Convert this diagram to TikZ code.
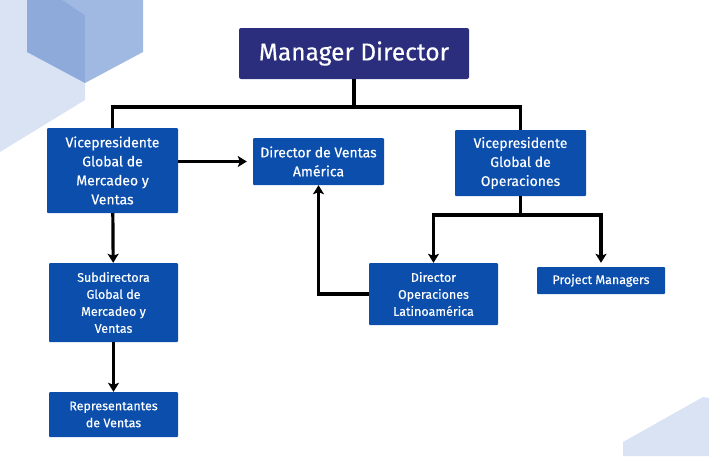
\documentclass[tikz,border=0pt]{standalone}
\usepackage{fontspec}
\setmainfont{Fira Sans}
\newfontfamily\boxfont{Fira Sans}[FakeBold=0.3]
\usepackage{tikz}
\usetikzlibrary{arrows.meta}

\definecolor{navy}{RGB}{43,46,125}
\definecolor{boxblue}{RGB}{11,78,172}
\definecolor{palehex}{RGB}{218,227,243}
\definecolor{cubeleft}{RGB}{142,170,219}
\definecolor{cuberight}{RGB}{160,185,226}

\begin{document}
\begin{tikzpicture}[x=1pt,y=-1pt,
    top/.style={rectangle,rounded corners=2pt,fill=navy,text=white,font=\boxfont\fontsize{24.5}{28}\selectfont,minimum width=230pt,minimum height=51pt,inner sep=0pt},
    big/.style={rectangle,rounded corners=1pt,fill=boxblue,text=white,align=center,font=\boxfont\fontsize{14}{19}\selectfont,minimum width=131pt,inner sep=0pt},
    small/.style={rectangle,rounded corners=1pt,fill=boxblue,text=white,align=center,font=\boxfont\fontsize{12.5}{17}\selectfont,minimum width=129pt,inner sep=0pt},
    link/.style={line width=3.2pt},
    >={Stealth[length=9pt,width=11pt,inset=2pt]}]
\useasboundingbox (0,0) rectangle (709,456);
% background shapes
\fill[palehex] (0,0) -- (85,0) -- (85,100) -- (0,152) -- cycle;
\fill[cubeleft] (27,0) -- (63,0) -- (85,15) -- (85,83) -- (27,52) -- cycle;
\fill[cuberight] (63,0) -- (143,0) -- (143,52) -- (85,83) -- (85,15) -- cycle;
\fill[palehex] (623,456) -- (623,442) -- (703,397) -- (709,398) -- (709,456) -- cycle;

\node[top]   (MD)  at (354,53.5)  {Manager Director};
\node[big,minimum height=85pt]   (VPM) at (112.5,170.5) {Vicepresidente\\Global de\\Mercadeo y\\Ventas};
\node[big,minimum height=47pt]   (DVA) at (318.5,161.5) {Director de Ventas\\América};
\node[big,minimum height=66pt]   (VPO) at (520.5,163)   {Vicepresidente\\Global de\\Operaciones};
\node[small,minimum height=79pt] (SUB) at (113.5,302.5) {Subdirectora\\Global de\\Mercadeo y\\Ventas};
\node[small,minimum height=45pt] (REP) at (113.5,414.5) {Representantes\\de Ventas};
\node[small,minimum height=62pt] (DOL) at (433.5,294)   {Director\\Operaciones\\Latinoamérica};
\node[small,minimum width=128pt,minimum height=27pt] (PM) at (601,280.5) {Project Managers};

\coordinate (bar)   at (354,107);
\coordinate (split) at (520.5,215);

\draw[link] (MD.south) -- (bar);
\draw[link] (bar) -| (VPM.north);
\draw[link] (bar) -| (VPO.north);
\draw[link] (VPO.south) -- (split);

\path[link,->,shorten >=6pt]
      (VPM.east |- DVA.west) edge node {} (DVA.west);
\path[link,->]
      (VPM) edge node {} (SUB)
      (SUB) edge node {} (REP);
\draw[link,->] (split) -| (DOL.north);
\draw[link,->,shorten >=4pt] (split) -| (PM.north);
\draw[link,->] (DOL.west) -| (DVA.south);
\end{tikzpicture}
\end{document}
